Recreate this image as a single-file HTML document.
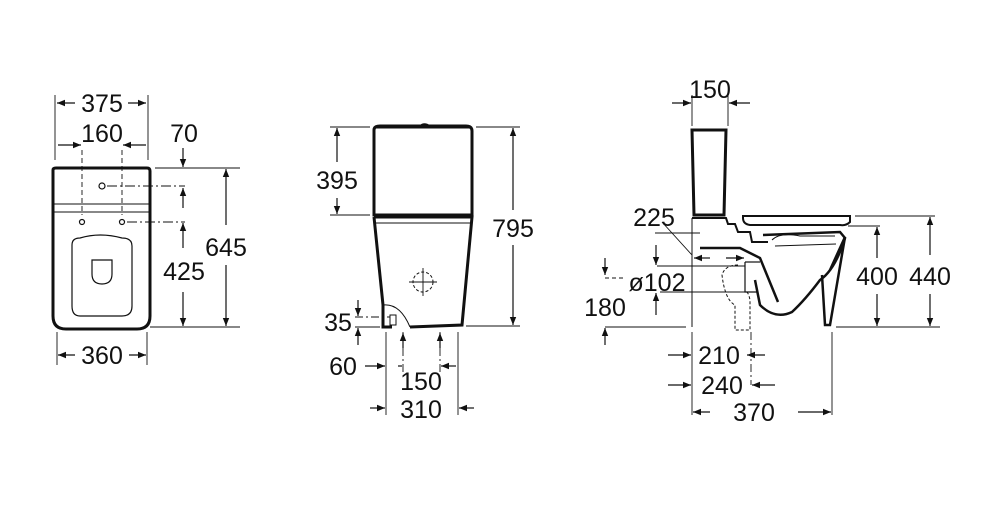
<!DOCTYPE html>
<html><head><style>
html,body{margin:0;padding:0;background:#fff;}
svg{display:block;}
text{font-family:"Liberation Sans",sans-serif;font-size:25px;fill:#111;}
</style></head><body>
<svg width="1000" height="516" viewBox="0 0 1000 516" xmlns="http://www.w3.org/2000/svg">
<defs>
<marker id="a" viewBox="0 0 10 10" refX="10" refY="5" markerWidth="12" markerHeight="8" orient="auto-start-reverse" markerUnits="userSpaceOnUse"><path d="M0,1 L10,5 L0,9 z" fill="#111"/></marker>
</defs>
<g stroke="#111" fill="none">
<!-- LEFT -->
<path d="M53,170 Q53,168 56,168 L147,168 Q150,168 150,171 L150,316 Q150,329 137,329 L66,329 Q53,329 53,316 Z" stroke-width="3"/>
<line x1="54" y1="204" x2="149" y2="204" stroke-width="1"/>
<line x1="54" y1="212" x2="149" y2="212" stroke-width="1"/>
<path d="M72,245 Q72,238 80,238 Q100,232 122,238 Q132,238 132,246 L132,306 Q132,316 122,316 L80,316 Q72,316 72,306 Z" stroke-width="1.2"/>
<path d="M92,260 L112,260 L112,274 Q112,284 102,284 Q92,284 92,274 Z" stroke-width="1.2"/>
<circle cx="102" cy="186" r="3" stroke-width="1.2"/>
<circle cx="82" cy="222" r="2.5" stroke-width="1.2"/>
<circle cx="122" cy="222" r="2.5" stroke-width="1.2"/>
<g stroke-width="0.9">
<line x1="55" y1="95" x2="55" y2="160"/><line x1="148" y1="95" x2="148" y2="160"/>
<line x1="82" y1="150" x2="82" y2="215" stroke-dasharray="5,3"/><line x1="122" y1="150" x2="122" y2="215" stroke-dasharray="5,3"/>
<line x1="107" y1="186" x2="185" y2="186" stroke-dasharray="10,3,2,3"/>
<line x1="127" y1="222" x2="185" y2="222" stroke-dasharray="10,3,2,3"/>
<line x1="155" y1="168" x2="240" y2="168"/><line x1="150" y1="327" x2="240" y2="327"/>
<line x1="57" y1="332" x2="57" y2="365"/><line x1="147" y1="332" x2="147" y2="365"/>
</g>
<g stroke-width="1.2">
<line x1="75" y1="103" x2="57" y2="103" marker-end="url(#a)"/><line x1="128" y1="103" x2="146" y2="103" marker-end="url(#a)"/>
<line x1="58" y1="145" x2="81" y2="145" marker-end="url(#a)"/><line x1="146" y1="145" x2="123" y2="145" marker-end="url(#a)"/>
<line x1="183" y1="148" x2="183" y2="167" marker-end="url(#a)"/>
<line x1="183" y1="208" x2="183" y2="188" marker-end="url(#a)"/>
<line x1="183" y1="248" x2="183" y2="223" marker-end="url(#a)"/>
<line x1="183" y1="292" x2="183" y2="326" marker-end="url(#a)"/>
<line x1="226" y1="225" x2="226" y2="169" marker-end="url(#a)"/>
<line x1="226" y1="265" x2="226" y2="326" marker-end="url(#a)"/>
<line x1="75" y1="355" x2="58" y2="355" marker-end="url(#a)"/><line x1="129" y1="355" x2="146" y2="355" marker-end="url(#a)"/>
</g>
<!-- MIDDLE -->
<path d="M374,130 Q374,126 380,126 L466,126 Q472,126 472,131 L472,215 L374,215 Z" stroke-width="3"/>
<path d="M420,126 Q424,122 430,126" stroke-width="1.5"/>
<line x1="375" y1="128" x2="471" y2="128" stroke-width="1"/>
<path d="M374,217 L472,217 L462,325 L410,327 M374,217 L383,305 L383,327 L392,327" stroke-width="3"/>
<line x1="374" y1="223" x2="472" y2="223" stroke-width="1"/>
<path d="M383,305 Q400,303 410,327" stroke-width="1"/>
<rect x="390" y="315" width="6" height="10" stroke-width="1"/>
<circle cx="423" cy="282" r="10" stroke-width="1" stroke-dasharray="3,2"/>
<g stroke-width="0.9">
<line x1="409" y1="282" x2="437" y2="282"/><line x1="423" y1="268" x2="423" y2="296"/>
<line x1="330" y1="127" x2="370" y2="127"/><line x1="330" y1="215" x2="370" y2="215"/>
<line x1="476" y1="127" x2="520" y2="127"/><line x1="466" y1="326" x2="520" y2="326"/>
<line x1="355" y1="317" x2="390" y2="317" stroke-dasharray="8,3,2,3"/>
<line x1="355" y1="327" x2="380" y2="327"/>
<line x1="386" y1="332" x2="386" y2="415"/><line x1="458" y1="332" x2="458" y2="415"/>
<line x1="403" y1="332" x2="403" y2="375" stroke-dasharray="8,3,2,3"/><line x1="440" y1="332" x2="440" y2="375" stroke-dasharray="8,3,2,3"/>
</g>
<g stroke-width="1.2">
<line x1="337" y1="162" x2="337" y2="128" marker-end="url(#a)"/><line x1="337" y1="198" x2="337" y2="214" marker-end="url(#a)"/>
<line x1="513" y1="210" x2="513" y2="128" marker-end="url(#a)"/><line x1="513" y1="245" x2="513" y2="325" marker-end="url(#a)"/>
<line x1="358" y1="300" x2="358" y2="316" marker-end="url(#a)"/><line x1="358" y1="345" x2="358" y2="328" marker-end="url(#a)"/>
<line x1="365" y1="366" x2="385" y2="366" marker-end="url(#a)"/>
<line x1="398" y1="366" x2="402" y2="366"/><line x1="456" y1="366" x2="441" y2="366" marker-end="url(#a)"/>
<line x1="370" y1="408" x2="385" y2="408" marker-end="url(#a)"/><line x1="474" y1="408" x2="459" y2="408" marker-end="url(#a)"/>
<line x1="403" y1="348" x2="403" y2="333" marker-end="url(#a)"/><line x1="440" y1="348" x2="440" y2="333" marker-end="url(#a)"/>
</g>
<!-- RIGHT -->
<path d="M692,130 L726,130 L724,215 L694,215 Z" stroke-width="3"/>
<path d="M692,218 L726,218 L728,224 L735,224 L738,232 L750,232 L752,242 L768,242" stroke-width="2"/>
<line x1="692" y1="218" x2="692" y2="327" stroke-width="1"/>
<path d="M743,216 L850,216 L850,222 Q846,226 840,225 L750,225 Q743,224 743,218 Z" stroke-width="2"/>
<path d="M763,235 L840,232 L845,238 Q835,270 820,280 Q805,300 792,312 Q775,320 760,305 L755,280" stroke-width="2.5"/>
<path d="M700,248 L740,248 L760,258 L778,302" stroke-width="2.5"/>
<path d="M830,270 L845,237 L830,325 L825,325 L822,275" stroke-width="2.5"/>
<path d="M772,240 Q780,232 800,236 L835,236" stroke-width="1"/>
<path d="M775,246 L836,244" stroke-width="1"/>
<path d="M745,262 L745,292 L758,292" stroke-width="1.2"/>
<path d="M745,262 L760,262" stroke-width="1.2"/>
<path d="M738,265 Q725,265 722,275 Q725,300 735,305 L735,330 L750,330 L750,300 Q748,290 745,292" stroke-width="1" stroke-dasharray="3,2"/>
<g stroke-width="0.9">
<line x1="692" y1="95" x2="692" y2="126"/><line x1="728" y1="95" x2="728" y2="126"/>
<line x1="855" y1="216" x2="935" y2="216"/><line x1="848" y1="226" x2="880" y2="226"/>
<line x1="605" y1="327" x2="686" y2="327"/><line x1="836" y1="327" x2="940" y2="327"/>
<line x1="655" y1="233" x2="700" y2="233"/><line x1="657" y1="266" x2="745" y2="266"/><line x1="660" y1="292" x2="745" y2="292"/>
<line x1="692" y1="332" x2="692" y2="415"/><line x1="832" y1="332" x2="832" y2="415"/>
<line x1="751" y1="332" x2="751" y2="385" stroke-dasharray="8,3,2,3"/>
<line x1="605" y1="278" x2="625" y2="278" stroke-dasharray="4,3"/>
<line x1="662" y1="222" x2="692" y2="255"/>
</g>
<g stroke-width="1.2">
<line x1="672" y1="103" x2="691" y2="103" marker-end="url(#a)"/><line x1="750" y1="103" x2="729" y2="103" marker-end="url(#a)"/>
<line x1="710" y1="258" x2="694" y2="258" marker-end="url(#a)"/><line x1="726" y1="258" x2="744" y2="258" marker-end="url(#a)"/>
<line x1="656" y1="245" x2="656" y2="265" marker-end="url(#a)"/><line x1="656" y1="315" x2="656" y2="293" marker-end="url(#a)"/>
<line x1="605" y1="258" x2="605" y2="275" marker-end="url(#a)"/><line x1="605" y1="345" x2="605" y2="328" marker-end="url(#a)"/>
<line x1="877" y1="258" x2="877" y2="227" marker-end="url(#a)"/><line x1="877" y1="294" x2="877" y2="326" marker-end="url(#a)"/>
<line x1="930" y1="255" x2="930" y2="217" marker-end="url(#a)"/><line x1="930" y1="294" x2="930" y2="326" marker-end="url(#a)"/>
<line x1="668" y1="355" x2="691" y2="355" marker-end="url(#a)"/><line x1="765" y1="355" x2="747" y2="355" marker-end="url(#a)"/>
<line x1="668" y1="385" x2="691" y2="385" marker-end="url(#a)"/><line x1="775" y1="385" x2="752" y2="385" marker-end="url(#a)"/>
<line x1="710" y1="412" x2="693" y2="412" marker-end="url(#a)"/><line x1="798" y1="412" x2="831" y2="412" marker-end="url(#a)"/>
</g>
</g>
<g>
<text x="102" y="112" text-anchor="middle">375</text>
<text x="102" y="142" text-anchor="middle">160</text>
<text x="184" y="142" text-anchor="middle">70</text>
<text x="184" y="280" text-anchor="middle">425</text>
<text x="226" y="256" text-anchor="middle">645</text>
<text x="102" y="364" text-anchor="middle">360</text>
<text x="337" y="189" text-anchor="middle">395</text>
<text x="513" y="237" text-anchor="middle">795</text>
<text x="338" y="331" text-anchor="middle">35</text>
<text x="343" y="375" text-anchor="middle">60</text>
<text x="421" y="390" text-anchor="middle">150</text>
<text x="421" y="418" text-anchor="middle">310</text>
<text x="710" y="98" text-anchor="middle">150</text>
<text x="654" y="226" text-anchor="middle">225</text>
<text x="657" y="291" text-anchor="middle">ø102</text>
<text x="605" y="316" text-anchor="middle">180</text>
<text x="877" y="285" text-anchor="middle">400</text>
<text x="930" y="285" text-anchor="middle">440</text>
<text x="719" y="364" text-anchor="middle">210</text>
<text x="722" y="394" text-anchor="middle">240</text>
<text x="754" y="421" text-anchor="middle">370</text>
</g>
</svg>
</body></html>
